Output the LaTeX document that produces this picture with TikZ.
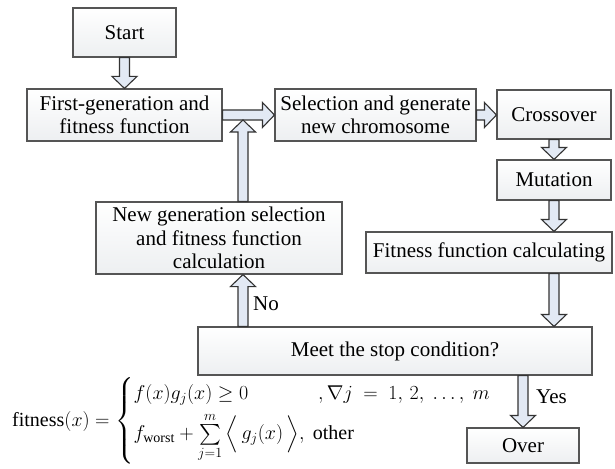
\RequirePackage{fix-cm}
\documentclass[tikz,border=0pt]{standalone}
\usepackage{amsmath}
\usepackage{fontspec}
\setmainfont{Liberation Serif}
\usetikzlibrary{calc}

\definecolor{boxline}{HTML}{555555}
\definecolor{boxfill}{HTML}{EDEFF1}
\definecolor{arrowfill}{HTML}{E2E9F4}

\tikzset{
  box/.style={draw=boxline, line width=1.1pt, top color=white, bottom color=boxfill,
    align=center, inner sep=2pt, font=\fontsize{21}{23.5}\selectfont},
  fatarrow/.style={draw=black!80, line width=1.1pt, fill=arrowfill, line join=miter},
  lbl/.style={anchor=west, inner sep=0pt, font=\fontsize{21}{23.5}\selectfont}
}

% block arrow from #1 to #2
\newcommand{\fatarrow}[2]{%
  \draw[fatarrow] ($(#1)!5pt!90:(#2)$) -- ($(#2)!12pt!(#1)!5pt!90:(#2)$)
    -- ($(#2)!12pt!(#1)!12.5pt!90:(#2)$) -- (#2)
    -- ($(#2)!12pt!(#1)!12.5pt!-90:(#2)$) -- ($(#2)!12pt!(#1)!5pt!-90:(#2)$)
    -- ($(#1)!5pt!-90:(#2)$) -- cycle;}

\begin{document}
\begin{tikzpicture}[x=1pt,y=-1pt]
\useasboundingbox (0,0) rectangle (615,468);
\node[box, minimum width=103pt, minimum height=49pt] (start) at (124.5,32.5) {Start};
\node[box, minimum width=195pt, minimum height=52pt] (first) at (124.5,115) {First-generation and\\fitness function};
\node[box, minimum width=201pt, minimum height=52pt] (sel) at (375.5,115) {Selection and generate\\new chromosome};
\node[box, minimum width=114pt, minimum height=49pt] (cross) at (554,114.5) {Crossover};
\node[box, minimum width=114pt, minimum height=40pt] (mut) at (554,180) {Mutation};
\node[box, minimum width=246pt, minimum height=41pt] (fit) at (489,252.5) {Fitness function calculating};
\node[box, minimum width=246pt, minimum height=72pt] (newgen) at (219,238) {New generation selection\\and fitness function\\calculation};
\node[box, minimum width=394pt, minimum height=48pt] (meet) at (395,351) {Meet the stop condition?};
\node[box, minimum width=112pt, minimum height=35pt] (over) at (523,445.5) {Over};
\coordinate (join) at (243,120);
\coordinate (ngtop) at (newgen.north -| join);
\coordinate (ngbot) at (newgen.south -| join);
\coordinate (meettop) at (meet.north -| join);
\node[lbl] (no) at (253,304) {No};
\node[lbl] (yes) at (536,397) {Yes};
\node[lbl, font=\fontsize{20}{24}\selectfont] (fitf) at (12,421)
  {$\text{fitness}(x)=\begin{cases}f(x)g_j(x)\geq 0\qquad\quad\ \ ,\nabla j\ =\ 1,\,2,\ \ldots,\ m\\[4pt]
   f_{\text{worst}}+\sum\limits_{j=1}^{m}\Big\langle\, g_j(x)\,\Big\rangle,\ \text{other}\end{cases}$};
\fatarrow{start.south}{first.north}
\fatarrow{first.east}{sel.west}
\fatarrow{sel.east}{sel.east -| cross.west}
\fatarrow{cross.south}{mut.north}
\fatarrow{mut.south}{fit.north -| mut.south}
\fatarrow{fit.south -| mut.south}{meet.north -| mut.south}
\fatarrow{meet.south -| over.north}{over.north}
\fatarrow{meettop}{ngbot}
\fatarrow{ngtop}{join}
\end{tikzpicture}
\end{document}
